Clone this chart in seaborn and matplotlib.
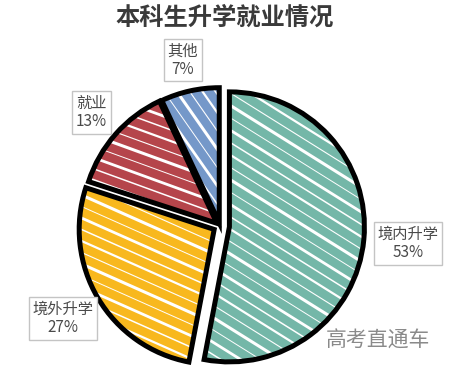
import numpy as np
import matplotlib
matplotlib.use('Agg')
import matplotlib.pyplot as plt
from matplotlib.collections import LineCollection
import seaborn as sns

# data
CATEGORIES = ['境内升学', '境外升学', '就业', '其他']
SHARES = [53, 27, 13, 7]
COLORS = ['#74b7a8', '#f8b81e', '#b5454b', '#7598c9']

TITLE = '本科生升学就业情况'
WATERMARK = '高考直通车'

# layout (pixel-based axes, figure is 461x380)
CENTER = (220, 154)
RADIUS = 135
EXPLODE = [0.07, 0.05, 0.03, 0.025]
LABEL_DIST = [1.40, 1.35, 1.27, 1.26]
# hand-drawn stroke texture: angle (deg) per slice, spacing in px, repeating widths
STROKE_ANGLE = [-32, -24, -20, -55]
STROKE_GAP = 10.5
STROKE_WIDTHS = [2.2, 0.8, 1.6, 1.1, 2.0, 0.7]

sns.set_theme(style='white')
plt.rcParams['font.family'] = ['Noto Sans CJK SC', 'DejaVu Sans']

fig = plt.figure(figsize=(4.61, 3.80), dpi=100)
ax = fig.add_axes([0, 0, 1, 1])
palette = sns.color_palette(COLORS)

explode_px = [e * RADIUS for e in EXPLODE]
wedges, _ = ax.pie(SHARES, explode=explode_px, startangle=90, counterclock=False,
                   center=CENTER, radius=RADIUS, colors=palette,
                   wedgeprops=dict(linewidth=0))

# white sketch strokes clipped to each slice
for w, ang in zip(wedges, STROKE_ANGLE):
    a = np.deg2rad(ang)
    d = np.array([np.cos(a), np.sin(a)])
    n = np.array([-d[1], d[0]])
    c = np.array(w.center)
    offs = np.arange(-RADIUS * 1.1, RADIUS * 1.1, STROKE_GAP)
    segs = [[c + s * n - 1.2 * RADIUS * d, c + s * n + 1.2 * RADIUS * d] for s in offs]
    lw = [STROKE_WIDTHS[i % len(STROKE_WIDTHS)] for i in range(len(segs))]
    lc = LineCollection(segs, colors='white', linewidths=lw, capstyle='round', zorder=w.get_zorder() + 0.1)
    ax.add_collection(lc)
    lc.set_clip_path(w)

# thick black outline on top
ax.pie(SHARES, explode=explode_px, startangle=90, counterclock=False,
       center=CENTER, radius=RADIUS,
       wedgeprops=dict(facecolor='none', edgecolor='black', linewidth=3.6,
                       joinstyle='miter', zorder=5))

# callout labels
for w, cat, val, dist in zip(wedges, CATEGORIES, SHARES, LABEL_DIST):
    ang = np.deg2rad((w.theta1 + w.theta2) / 2)
    x = CENTER[0] + dist * RADIUS * np.cos(ang)
    y = CENTER[1] + dist * RADIUS * np.sin(ang)
    ax.text(x, y, f'{cat}\n{val}%', ha='center', va='center', fontsize=11,
            color='#4a4a4a', linespacing=1.1, zorder=6,
            bbox=dict(boxstyle='square,pad=0.25', facecolor='white', edgecolor='#c4c4c4', linewidth=1))

ax.text(225, 362, TITLE, ha='center', va='center', fontsize=17.5, fontweight='bold', color='#3a3a3a')
ax.text(378, 39, WATERMARK, ha='center', va='center', fontsize=15, color='#8a8a8a', zorder=6)

ax.set_xlim(0, 461)
ax.set_ylim(0, 380)
ax.set_aspect('equal')
ax.axis('off')

fig.savefig('out.png', dpi=100, facecolor='white')
